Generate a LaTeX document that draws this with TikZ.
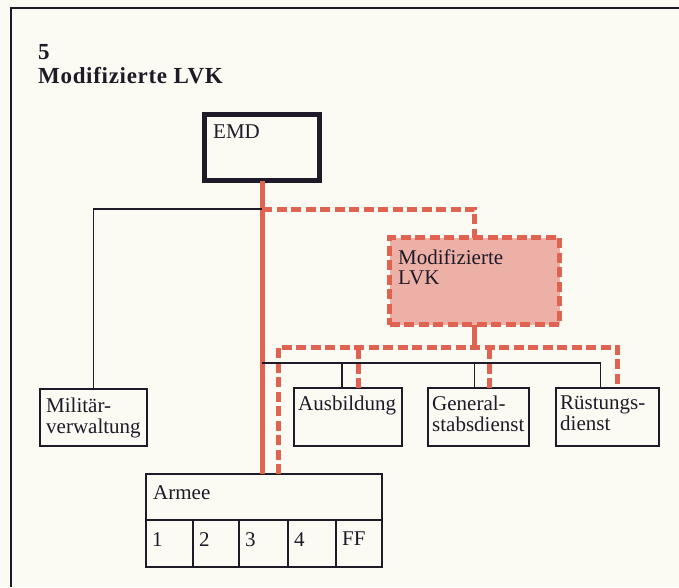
\documentclass[tikz,border=0pt]{standalone}
\usepackage{fontspec}
\setmainfont{Liberation Serif}
\newfontfamily\boxfont{Liberation Serif}
\newfontfamily\headfont[LetterSpace=3]{Liberation Serif}
\definecolor{ink}{RGB}{30,26,40}
\definecolor{lvkred}{RGB}{224,98,80}
\definecolor{lvkpink}{RGB}{236,176,166}
\definecolor{paper}{RGB}{251,250,243}
\tikzset{unit/.style={draw=ink,line width=1.8pt,inner sep=0pt,outer sep=0pt,anchor=north west}}
\tikzset{tag/.style={anchor=north west,inner sep=0pt,align=left,text=ink,font=\boxfont\fontsize{21}{20.5}\selectfont}}
\tikzset{head/.style={anchor=north west,inner sep=0pt,align=left,text=ink,font=\headfont\bfseries\fontsize{23}{24}\selectfont}}
\tikzset{link/.style={draw=ink,line width=1.5pt}}
\tikzset{spine/.style={draw=lvkred,line width=5pt}}
\tikzset{dashlink/.style={draw=lvkred,line width=5pt,dash pattern=on 10pt off 4.5pt}}

\begin{document}
\begin{tikzpicture}[x=1pt,y=-1pt]
                    \fill[paper] (0,0) rectangle (679,587);
                    \useasboundingbox (0,0) rectangle (679,587);
                    \draw[link,line width=1.2pt] (11,587) -- (11,8) -- (679,8);

                    \node[head] at (38,44) (title){5\\Modifizierte LVK};

                    \node[unit,line width=5.5pt,minimum width=115pt,minimum height=66pt,label={[tag,xshift=8.5pt,yshift=-10.5pt]north west:EMD}] at (204.5,114.5) (emd){};
                    \node[unit,draw=lvkred,fill=lvkpink,line width=5pt,dash pattern=on 10pt off 4.5pt,minimum width=170pt,minimum height=87pt,label={[tag,xshift=8.5pt,yshift=-12pt]north west:Modifizierte\\LVK}] at (389.5,237.5) (lvk){};
                    \node[unit,minimum width=107pt,minimum height=57pt,label={[tag,xshift=6pt,yshift=-9pt]north west:Militär-\\verwaltung}] at (40,389) (milv){};
                    \node[unit,minimum width=108pt,minimum height=58pt,label={[tag,xshift=4pt,yshift=-8pt]north west:Ausbildung}] at (294,388) (ausb){};
                    \node[unit,minimum width=101pt,minimum height=58pt,label={[tag,xshift=4pt,yshift=-8pt]north west:General-\\stabsdienst}] at (428,388) (gen){};
                    \node[unit,minimum width=103pt,minimum height=58pt,label={[tag,xshift=4pt,yshift=-8pt]north west:Rüstungs-\\dienst}] at (556,388) (ruest){};
                    \node[unit,minimum width=236pt,minimum height=46pt,label={[tag,xshift=7pt,yshift=-11pt]north west:Armee}] at (146,474) (armee){};
                    \foreach \n/\xa/\w in {1/146/47, 2/193/46, 3/239/49, 4/288/48, FF/336/46}
                        \node[unit,minimum width=\w pt,minimum height=47pt,label={[tag,xshift=6pt,yshift=-12pt]north west:\n}] at (\xa,520) (cell\n){};

                    \coordinate (j1) at (262,209);
                    \coordinate (j2) at (474.5,347);
                    \coordinate (j3) at (278,347);
                    \coordinate (j4) at (262,363);

                    % red lines
                    \draw[dashlink] (j1) -| (lvk.north);
                    \draw[dashlink] (armee.north -| j3) -- (j3) -| ([xshift=10pt]ruest.north);
                    \draw[dashlink] ([xshift=10pt]ausb.north) -- ++(0,-41);
                    \draw[dashlink] ([xshift=11pt]gen.north) -- ++(0,-41);
                    \draw[spine] (lvk.south) -- (j2);
                    \draw[spine] (emd.south) -- (emd.south |- armee.north);

                    % black lines
                    \draw[link] (j1) -| (milv.north);
                    \draw[link] (j4) -| ([xshift=-7pt]ruest.north);
                    \draw[link] ([xshift=-6pt]ausb.north) -- ++(0,-25);
                    \draw[link] ([xshift=-4pt]gen.north) -- ++(0,-25);

                \end{tikzpicture}
\end{document}
